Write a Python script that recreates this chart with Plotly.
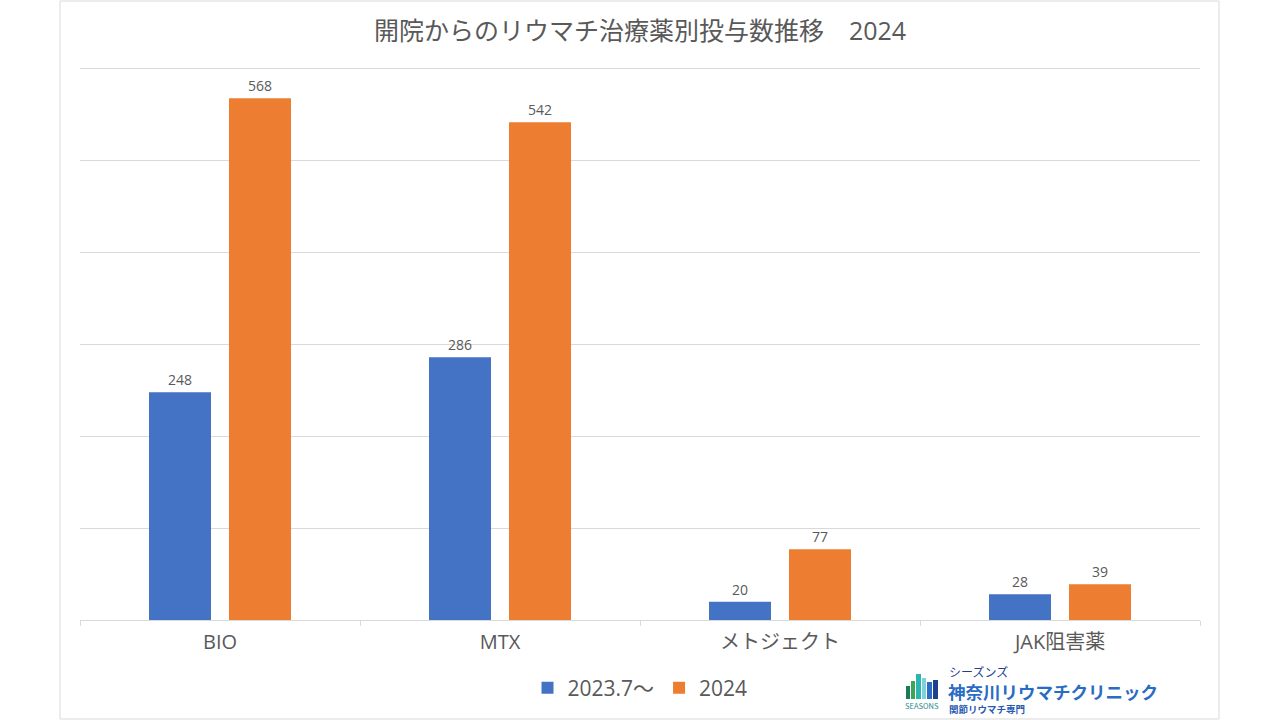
import plotly.graph_objects as go

categories = ["BIO", "MTX", "メトジェクト", "JAK阻害薬"]
series_names = ["2023.7～", "2024"]
values_2023 = [248, 286, 20, 28]
values_2024 = [568, 542, 77, 39]
colors = ["#4472C4", "#ED7D31"]

FONT = "Open Sans, Noto Sans CJK JP"
CJK = "Noto Sans CJK JP"
GRAY = "#595959"

fig = go.Figure()
for name, vals, col in zip(series_names, [values_2023, values_2024], colors):
    fig.add_trace(go.Bar(
        x=categories, y=vals, name=name,
        marker=dict(color=col, line=dict(width=0)),
        text=[str(v) for v in vals], textposition="outside",
        textfont=dict(size=14, color=GRAY, family=FONT),
        cliponaxis=False,
    ))

L, R, T, B = 80, 80, 64, 100
W, H = 1280, 720
pw, ph = W - L - R, H - T - B

def px(x):
    return (x - L) / pw

def py(y):
    return (H - B - y) / ph

fig.update_layout(
    width=W, height=H,
    margin=dict(l=L, r=R, t=T, b=B),
    paper_bgcolor="white", plot_bgcolor="white",
    barmode="group", bargap=0.4286, bargroupgap=0.225,
    font=dict(family=FONT, color=GRAY),
    title=dict(text="開院からのリウマチ治療薬別投与数推移　2024",
               x=0.5, xref="paper", xanchor="center",
               y=1 - 31 / H, yanchor="middle",
               font=dict(size=25, color=GRAY, family=FONT)),
    legend=dict(orientation="h", x=0.5, xanchor="center", y=py(688), yanchor="middle",
                font=dict(size=21, color=GRAY, family=FONT),
                itemwidth=30, traceorder="normal"),
    xaxis=dict(showline=True, linecolor="#d9d9d9", linewidth=1,
               ticks="outside", tickson="boundaries", ticklen=5, tickcolor="#d9d9d9",
               ticklabelstandoff=4,
               tickfont=dict(size=20, color=GRAY, family=FONT), showgrid=False),
    yaxis=dict(range=[0, 605.4], tick0=0, dtick=100, showgrid=True, gridcolor="#d9d9d9",
               gridwidth=1, showticklabels=False, zeroline=False, showline=False),
    showlegend=True,
)

# chart border
fig.add_shape(type="rect", xref="paper", yref="paper",
              x0=px(60), x1=px(1219), y0=py(719), y1=py(1),
              line=dict(color="#d9d9d9", width=1), fillcolor="rgba(0,0,0,0)", layer="below")

# logo icon bars
icon_bars = [
    (906, 910, 686, "#1a7a5a"),
    (911, 915, 681, "#3aa655"),
    (916, 921, 674, "#2bb5b0"),
    (922, 926, 678, "#7fd0d8"),
    (927, 932, 682, "#2a6bc4"),
    (933, 938, 680, "#1f3f8f"),
]
for x0, x1, top, c in icon_bars:
    fig.add_shape(type="rect", xref="paper", yref="paper",
                  x0=px(x0), x1=px(x1), y0=py(699), y1=py(top),
                  line=dict(width=0), fillcolor=c)
fig.add_annotation(text="SEASONS", xref="paper", yref="paper", x=px(922), y=py(705),
                   showarrow=False, font=dict(size=7.5, color="#1f8a8a", family=CJK),
                   xanchor="center", yanchor="middle")
fig.add_annotation(text="シーズンズ", xref="paper", yref="paper", x=px(947), y=py(671),
                   showarrow=False, font=dict(size=12, color="#1f3f8f", family=CJK),
                   xanchor="left", yanchor="middle")
fig.add_annotation(text="<b>神奈川リウマチクリニック</b>", xref="paper", yref="paper", x=px(946), y=py(691),
                   showarrow=False, font=dict(size=17.5, color="#2a6bc4", family=CJK),
                   xanchor="left", yanchor="middle")
fig.add_annotation(text="<b>関節リウマチ専門</b>", xref="paper", yref="paper", x=px(947), y=py(709),
                   showarrow=False, font=dict(size=9.5, color="#2a5ab0", family=CJK),
                   xanchor="left", yanchor="middle")

fig.write_html("out.html", config={"displayModeBar": False},
               post_script="document.body.style.margin='0';document.body.style.overflow='hidden';")
